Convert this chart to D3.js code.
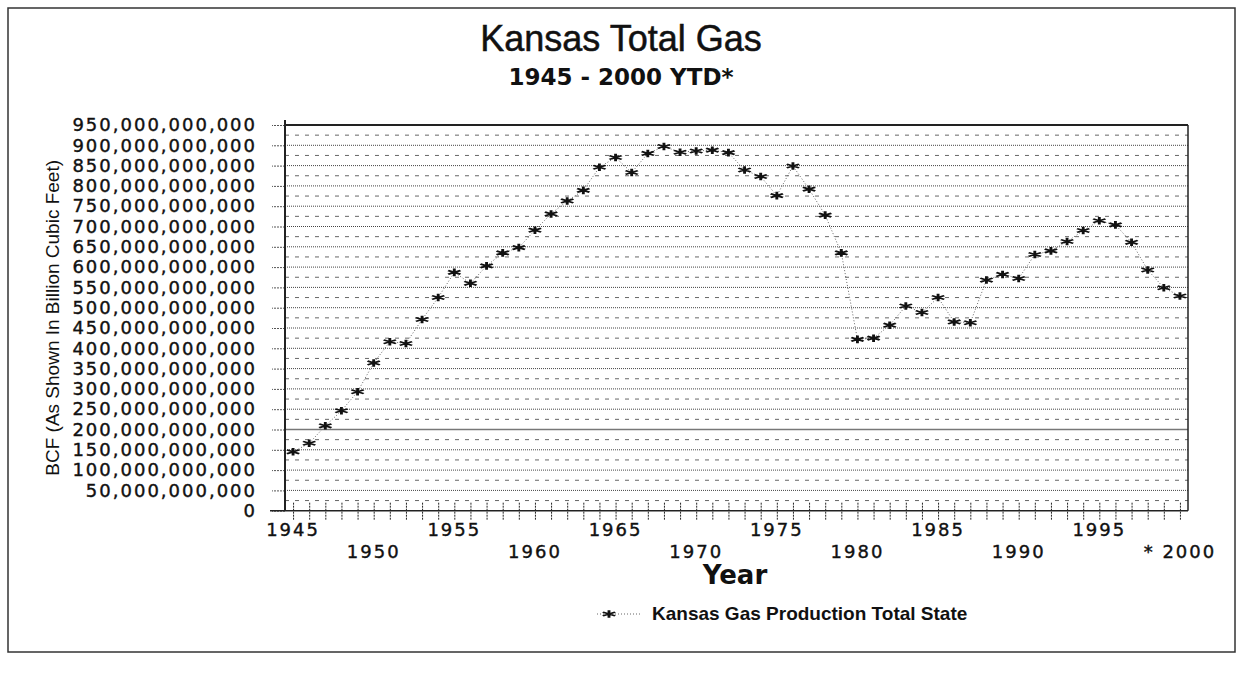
<!DOCTYPE html>
<html>
<head>
<meta charset="utf-8">
<script src="https://cdn.jsdelivr.net/npm/d3@7"></script>
<style>
  body { margin: 0; background: #fff; }
  svg { display: block; }
</style>
</head>
<body>
<div id="chart"></div>
<script>
// data (billion cubic feet)
var years = [1945, 1946, 1947, 1948, 1949, 1950, 1951, 1952, 1953, 1954,
  1955, 1956, 1957, 1958, 1959, 1960, 1961, 1962, 1963, 1964,
  1965, 1966, 1967, 1968, 1969, 1970, 1971, 1972, 1973, 1974,
  1975, 1976, 1977, 1978, 1979, 1980, 1981, 1982, 1983, 1984,
  1985, 1986, 1987, 1988, 1989, 1990, 1991, 1992, 1993, 1994,
  1995, 1996, 1997, 1998, 1999, 2000];
var gasBcf = [145, 166, 209, 246, 293, 364, 416, 412, 471, 525,
  587, 560, 603, 635, 648, 691, 731, 763, 789, 846,
  870, 833, 880, 897, 883, 886, 888, 882, 839, 823,
  776, 849, 792, 728, 635, 422, 425, 457, 504, 488,
  525, 465, 463, 568, 582, 572, 631, 640, 663, 690,
  714, 704, 661, 593, 549, 529];
var yTicks = [0, 50, 100, 150, 200, 250, 300, 350, 400, 450,
  500, 550, 600, 650, 700, 750, 800, 850, 900, 950];
var yearLabels = [1945, 1950, 1955, 1960, 1965, 1970, 1975, 1980, 1985, 1990, 1995, 2000];
var seriesName = "Kansas Gas Production Total State";

var svgWidth = 1243;
var svgHeight = 682;

var plot = { left: 285, right: 1188, top: 125, bottom: 510.7 };

var svg = d3.select("#chart")
  .append("svg")
  .attr("width", svgWidth)
  .attr("height", svgHeight);

// page frame
svg.append("rect")
  .attr("x", 8).attr("y", 8)
  .attr("width", 1227).attr("height", 644)
  .attr("fill", "none")
  .attr("stroke", "#333")
  .attr("stroke-width", 1.5);

// titles
svg.append("text")
  .attr("x", 621).attr("y", 51)
  .attr("text-anchor", "middle")
  .style("font-family", "Liberation Sans, Arial, sans-serif")
  .style("font-size", "36px")
  .style("stroke", "#111")
  .style("stroke-width", "0.5px")
  .attr("fill", "#111")
  .text("Kansas Total Gas");

svg.append("text")
  .attr("x", 621).attr("y", 85)
  .attr("text-anchor", "middle")
  .style("font-family", "DejaVu Sans, sans-serif")
  .style("font-size", "23px")
  .style("font-weight", "bold")
  .attr("fill", "#111")
  .text("1945 - 2000 YTD*");

var x = d3.scaleLinear()
  .domain([1944.5, 2000.5])
  .range([plot.left, plot.right]);

var y = d3.scaleLinear()
  .domain([0, 950])
  .range([plot.bottom, plot.top]);

// gridlines every 25 BCF, dotted on the 50s, dashed between
var grid = svg.append("g");
d3.range(25, 950, 25).forEach(function(v) {
  var major = v % 50 === 0;
  grid.append("line")
    .attr("x1", plot.left).attr("x2", plot.right)
    .attr("y1", y(v)).attr("y2", y(v))
    .attr("stroke", v === 200 ? "#777" : (major ? "#444" : "#666"))
    .attr("stroke-width", v === 200 ? 1.4 : 1)
    .attr("stroke-dasharray", v === 200 ? null : (major ? "1,1" : "4,6"));
});

// y axis
var leftAxis = d3.axisLeft(y)
  .tickValues(yTicks)
  .tickSize(13)
  .tickPadding(15)
  .tickFormat(function(d) { return d3.format(",")(d * 1e9); });

var yAxisG = svg.append("g")
  .attr("transform", "translate(" + plot.left + ",0)")
  .call(leftAxis);
yAxisG.select(".domain").remove();
yAxisG.selectAll(".tick line")
  .attr("stroke", "#555")
  .attr("stroke-dasharray", "2,1");
yAxisG.selectAll("text")
  .style("font-family", "DejaVu Sans, sans-serif")
  .style("font-size", "18px")
  .style("letter-spacing", "2px")
  .style("stroke", "#111")
  .style("stroke-width", "0.4px")
  .attr("fill", "#111");

// x axis: one tick per year, labels staggered on two rows
var bottomAxis = d3.axisBottom(x)
  .tickValues(years)
  .tickSize(10)
  .tickFormat("");

var xAxisG = svg.append("g")
  .attr("transform", "translate(0," + plot.bottom + ")")
  .call(bottomAxis);
xAxisG.select(".domain").remove();
xAxisG.selectAll(".tick line")
  .attr("y1", -8)
  .attr("stroke", "#222")
  .attr("stroke-dasharray", "2,1");

svg.append("g").selectAll("text")
  .data(yearLabels)
  .enter()
  .append("text")
  .attr("x", function(d) { return x(d); })
  .attr("y", function(d, i) { return plot.bottom + (i % 2 === 0 ? 25 : 47); })
  .attr("text-anchor", "middle")
  .style("font-family", "DejaVu Sans, sans-serif")
  .style("font-size", "18px")
  .style("letter-spacing", "2px")
  .style("stroke", "#111")
  .style("stroke-width", "0.4px")
  .attr("fill", "#111")
  .text(function(d) { return d === 2000 ? "* 2000" : d; });

// frame lines
svg.append("line")
  .attr("x1", plot.left).attr("x2", plot.left)
  .attr("y1", plot.top - 5).attr("y2", plot.bottom)
  .attr("stroke", "#222").attr("stroke-width", 2);
svg.append("line")
  .attr("x1", plot.left - 15).attr("x2", plot.right)
  .attr("y1", plot.bottom).attr("y2", plot.bottom)
  .attr("stroke", "#222").attr("stroke-width", 1.5);
svg.append("line")
  .attr("x1", plot.left).attr("x2", plot.right)
  .attr("y1", plot.top).attr("y2", plot.top)
  .attr("stroke", "#222").attr("stroke-width", 2);
svg.append("line")
  .attr("x1", plot.right).attr("x2", plot.right)
  .attr("y1", plot.top).attr("y2", plot.bottom)
  .attr("stroke", "#222").attr("stroke-width", 1.5);

// axis titles
svg.append("text")
  .attr("transform", "translate(59," + ((plot.top + plot.bottom) / 2) + ") rotate(-90)")
  .attr("text-anchor", "middle")
  .style("font-family", "Liberation Sans, Arial, sans-serif")
  .style("font-size", "19px")
  .attr("fill", "#111")
  .text("BCF (As Shown In Billion Cubic Feet)");

svg.append("text")
  .attr("x", 735).attr("y", 584)
  .attr("text-anchor", "middle")
  .style("font-family", "DejaVu Sans, sans-serif")
  .style("font-size", "26px")
  .style("font-weight", "bold")
  .attr("fill", "#111")
  .text("Year");

// series
var gasData = years.map(function(yr, i) { return { year: yr, value: gasBcf[i] }; });

var line = d3.line()
  .x(function(d) { return x(d.year); })
  .y(function(d) { return y(d.value); });

svg.append("path")
  .datum(gasData)
  .attr("d", line)
  .attr("fill", "none")
  .attr("stroke", "#666")
  .attr("stroke-width", 1)
  .attr("stroke-dasharray", "1,2");

var marker = d3.symbol().type(d3.symbolAsterisk).size(55);

svg.append("g").selectAll("path")
  .data(gasData)
  .enter()
  .append("path")
  .attr("d", marker)
  .attr("transform", function(d) {
    return "translate(" + x(d.year) + "," + y(d.value) + ") scale(1.6,0.85)";
  })
  .attr("fill", "none")
  .attr("stroke", "#111")
  .attr("stroke-width", 1.8);

// legend
var legend = svg.append("g");
legend.append("line")
  .attr("x1", 597).attr("x2", 640)
  .attr("y1", 614).attr("y2", 614)
  .attr("stroke", "#666")
  .attr("stroke-dasharray", "1,2");
legend.append("path")
  .attr("d", marker)
  .attr("transform", "translate(609,614) scale(1.6,0.85)")
  .attr("fill", "none")
  .attr("stroke", "#111")
  .attr("stroke-width", 1.8);
legend.append("text")
  .attr("x", 652).attr("y", 620)
  .style("font-family", "Liberation Sans, Arial, sans-serif")
  .style("font-size", "19px")
  .style("font-weight", "bold")
  .attr("fill", "#111")
  .text(seriesName);
</script>
</body>
</html>
